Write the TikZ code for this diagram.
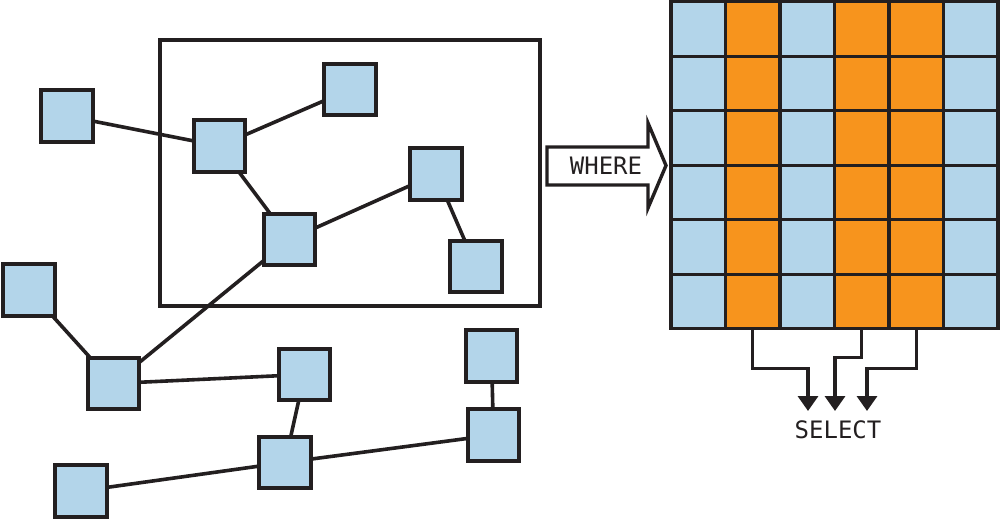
\documentclass[tikz,border=0pt]{standalone}
\usepackage{fontspec}
\newfontfamily\labelfont{DejaVu Sans Mono}
\usetikzlibrary{arrows.meta}
\definecolor{cellblue}{HTML}{B3D5EA}
\definecolor{cellorange}{HTML}{F7941D}
\definecolor{ink}{HTML}{231F20}
\begin{document}
\begin{tikzpicture}[x=1pt,y=-1pt,
  item/.style={draw=ink, line width=4pt, fill=cellblue, minimum size=51.5pt, inner sep=0pt, outer sep=0pt},
  link/.style={draw=ink, line width=3.6pt},
  cell/.style={draw=ink, line width=3.4pt, minimum size=54.5pt, inner sep=0pt, outer sep=0pt},
  word/.style={font=\labelfont\fontsize{24}{24}\selectfont, text=ink, inner sep=0pt},
  sel/.style={draw=ink, line width=3.4pt, -{Triangle[width=20pt,length=15pt]}}]

\useasboundingbox (0,0) rectangle (1000,520);

% filtered region of the graph
\node[draw=ink, line width=3.5pt, minimum width=380pt, minimum height=266pt, inner sep=0pt, outer sep=0pt] (region) at (350,173) {};

% graph nodes
\node[item] (A) at (67,116) {};
\node[item] (B) at (219.5,146) {};
\node[item] (C) at (350,89.5) {};
\node[item] (D) at (289.5,239.5) {};
\node[item] (E) at (29,290) {};
\node[item] (F) at (436,174) {};
\node[item] (G) at (476,266.5) {};
\node[item] (H) at (113.5,383.5) {};
\node[item] (I) at (304.5,374.5) {};
\node[item] (J) at (491.5,356) {};
\node[item] (K) at (493.5,435) {};
\node[item] (L) at (285,462.5) {};
\node[item] (M) at (81,491) {};

% edges
\draw[link] (A) -- (B);
\draw[link] (B) -- (C);
\draw[link] (B) -- (D);
\draw[link] (D) -- (F);
\draw[link] (F) -- (G);
\draw[link] (D) -- (H);
\draw[link] (E) -- (H);
\draw[link] (H) -- (I);
\draw[link] (I) -- (L);
\draw[link] (L) -- (M);
\draw[link] (L) -- (K);
\draw[link] (K) -- (J);

% WHERE arrow
\draw[draw=ink, line width=3.4pt, fill=white, line join=miter]
  (547,147) -- (648,147) -- (648,123) -- (666,165.5) -- (648,208) -- (648,185) -- (547,185) -- cycle;
\node[word] (where) at (606,165.5) {WHERE};

% result table
\foreach \i in {1,...,6}
  \foreach \j/\c in {1/cellblue,2/cellorange,3/cellblue,4/cellorange,5/cellorange,6/cellblue}
    \node[cell, fill=\c] (c-\i-\j) at ({698.25+54.5*(\j-1)}, {29+54.5*(\i-1)}) {};

% SELECT arrows
\coordinate (t1) at (808,411);
\coordinate (t2) at (835,411);
\coordinate (t3) at (867,411);
\draw[sel] (c-6-2.south) -- ++(0,39.5) -| (t1);
\draw[sel] (c-6-4.south) -- ++(0,28.5) -| (t2);
\draw[sel] (c-6-5.south) -- ++(0,39.5) -| (t3);
\node[word] (select) at (838,430) {SELECT};
\end{tikzpicture}
\end{document}
